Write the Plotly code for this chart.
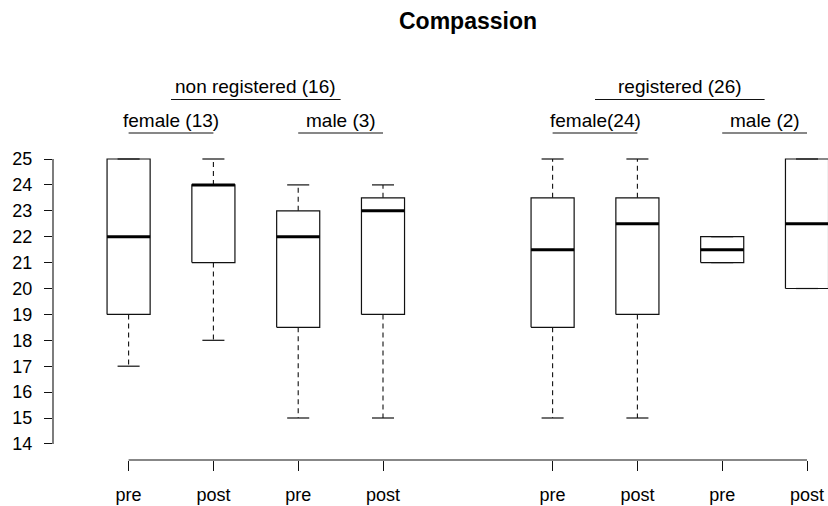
import plotly.graph_objects as go

# ---- data ----
positions = [1, 2, 3, 4, 6, 7, 8, 9]
tick_labels = ["pre", "post", "pre", "post", "pre", "post", "pre", "post"]
mins = [17, 18, 15, 15, 15, 15, 21, 20]
q1s = [19, 21, 18.5, 19, 18.5, 19, 21, 20]
medians = [22, 24, 22, 23, 21.5, 22.5, 21.5, 22.5]
q3s = [25, 24, 23, 23.5, 23.5, 23.5, 22, 25]
maxs = [25, 25, 24, 24, 25, 25, 22, 25]
subgroup_labels = ["female (13)", "male (3)", "female(24)", "male (2)"]
group_labels = ["non registered (16)", "registered (26)"]
y_ticks = list(range(14, 26))
title = "Compassion"

# ---- layout geometry ----
W, H = 828, 506
M_L, M_R, M_T, M_B = 53, 0, 147, 46
PLOT_H = H - M_T - M_B
FONT = "Liberation Sans, Arial, sans-serif"
BOX_HALF = 0.254
CAP_HALF = 0.13


def py(px):
    """pixel row -> paper y"""
    return (H - M_B - px) / PLOT_H


# box outlines
bx, by = [], []
for p, a, b in zip(positions, q1s, q3s):
    bx += [p - BOX_HALF, p + BOX_HALF, p + BOX_HALF, p - BOX_HALF, p - BOX_HALF, None]
    by += [a, a, b, b, a, None]

# whiskers (dashed)
wx, wy = [], []
for p, lo, a, b, hi in zip(positions, mins, q1s, q3s, maxs):
    wx += [p, p, None, p, p, None]
    wy += [b, hi, None, a, lo, None]

# caps
cx, cy = [], []
for p, lo, hi in zip(positions, mins, maxs):
    cx += [p - CAP_HALF, p + CAP_HALF, None, p - CAP_HALF, p + CAP_HALF, None]
    cy += [hi, hi, None, lo, lo, None]

# medians
mx, my = [], []
for p, m in zip(positions, medians):
    mx += [p - BOX_HALF, p + BOX_HALF, None]
    my += [m, m, None]

LINE = "#111111"
fig = go.Figure()
fig.add_trace(go.Scatter(x=wx, y=wy, mode="lines", line=dict(color=LINE, width=1.1, dash="5px,4px"), hoverinfo="skip"))
fig.add_trace(go.Scatter(x=cx, y=cy, mode="lines", line=dict(color=LINE, width=1.2), hoverinfo="skip"))
fig.add_trace(go.Scatter(x=bx, y=by, mode="lines", line=dict(color=LINE, width=1.2), hoverinfo="skip"))
fig.add_trace(go.Scatter(x=mx, y=my, mode="lines", line=dict(color="black", width=3), hoverinfo="skip"))

# x range so that unit spacing ~84.8px, x=1 at px ~128.6
plot_w = W - M_L - M_R
unit = 84.8
x0 = 1 - (128.6 - M_L) / unit
x1 = x0 + plot_w / unit

shapes = []
annotations = []
# axis lines
shapes.append(dict(type="line", xref="x", yref="paper", x0=positions[0], x1=positions[-1], y0=0, y1=0,
                   line=dict(color=LINE, width=1.1)))
shapes.append(dict(type="line", xref="paper", yref="y", x0=0, x1=0, y0=y_ticks[0], y1=y_ticks[-1],
                   line=dict(color=LINE, width=1.1)))

# subgroup labels with underlines
for i, lab in enumerate(subgroup_labels):
    a, b = positions[2 * i], positions[2 * i + 1]
    shapes.append(dict(type="line", xref="x", yref="paper", x0=a, x1=b, y0=py(133), y1=py(133),
                       line=dict(color=LINE, width=1.1)))
    annotations.append(dict(text=lab, x=(a + b) / 2, xref="x", y=py(120), yref="paper", showarrow=False,
                            yanchor="middle", font=dict(family=FONT, size=19, color="black")))

# group labels with underlines
for g, lab in enumerate(group_labels):
    a = (positions[4 * g] + positions[4 * g + 1]) / 2
    b = (positions[4 * g + 2] + positions[4 * g + 3]) / 2
    shapes.append(dict(type="line", xref="x", yref="paper", x0=a, x1=b, y0=py(99.5), y1=py(99.5),
                       line=dict(color=LINE, width=1.1)))
    annotations.append(dict(text=lab, x=(a + b) / 2, xref="x", y=py(87), yref="paper", showarrow=False,
                            yanchor="middle", font=dict(family=FONT, size=19, color="black")))

annotations.append(dict(text="<b>" + title + "</b>", x=(positions[0] + positions[-1]) / 2, xref="x",
                        y=py(21), yref="paper", showarrow=False, yanchor="middle",
                        font=dict(family=FONT, size=23, color="black")))

y0 = 25 - (H - M_B - 159) / 25.9
y1 = 25 + (159 - M_T) / 25.9

fig.update_layout(
    width=W, height=H,
    margin=dict(l=M_L, r=M_R, t=M_T, b=M_B, pad=0),
    paper_bgcolor="white", plot_bgcolor="white",
    showlegend=False,
    font=dict(family=FONT, size=18, color="black"),
    shapes=shapes, annotations=annotations,
    xaxis=dict(range=[x0, x1], tickvals=positions, ticktext=tick_labels, ticks="outside", ticklen=10,
               tickcolor=LINE, tickwidth=1.1, showline=False, showgrid=False, zeroline=False,
               ticklabelstandoff=8, tickfont=dict(size=18, family=FONT, color="black")),
    yaxis=dict(range=[y0, y1], tickvals=y_ticks, ticks="outside", ticklen=8, tickcolor=LINE, tickwidth=1.1,
               showline=False, showgrid=False, zeroline=False, ticklabelstandoff=8,
               tickfont=dict(size=18, family=FONT, color="black")),
)

fig.write_html("out.html", config={"displayModeBar": False},
               post_script="document.body.style.margin='0';document.body.style.padding='0';")
